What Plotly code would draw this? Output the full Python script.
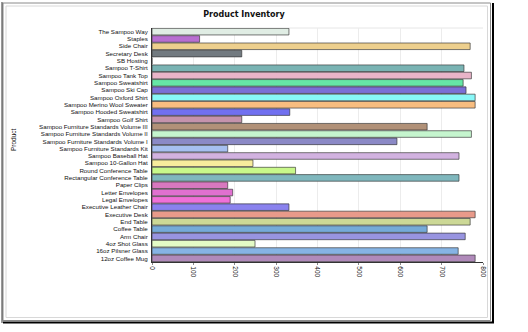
import plotly.graph_objects as go

products = [
    "The Sampoo Way", "Staples", "Side Chair", "Secretary Desk", "SB Hosting",
    "Sampoo T-Shirt", "Sampoo Tank Top", "Sampoo Sweatshirt", "Sampoo Ski Cap",
    "Sampoo Oxford Shirt", "Sampoo Merino Wool Sweater", "Sampoo Hooded Sweatshirt",
    "Sampoo Golf Shirt", "Sampoo Furniture Standards Volume III",
    "Sampoo Furniture Standards Volume II", "Sampoo Furniture Standards Volume I",
    "Sampoo Furniture Standards Kit", "Sampoo Baseball Hat", "Sampoo 10-Gallon Hat",
    "Round Conference Table", "Rectangular Conference Table", "Paper Clips",
    "Letter Envelopes", "Legal Envelopes", "Executive Leather Chair", "Executive Desk",
    "End Table", "Coffee Table", "Arm Chair", "4oz Shot Glass", "16oz Pilsner Glass",
    "12oz Coffee Mug",
]
inventory = [
    331, 115, 769, 217, 0,
    754, 772, 752, 759,
    781, 781, 333,
    217, 665,
    772, 592,
    183, 742, 244,
    347, 742, 183,
    195, 189, 331, 781,
    769, 665, 757, 249, 740,
    781,
]
bar_colors = [
    "#e0ede4", "#b86fd1", "#edcf8d", "#727a80", "#ffffff",
    "#79b3b3", "#e9b4c8", "#66e6a6", "#7b6fd6",
    "#88f8f8", "#f7bd80", "#7170f0",
    "#c593ac", "#b19178",
    "#c5f5ce", "#8b89c6",
    "#a6bff0", "#d2b2e0", "#f7ec9c",
    "#c8f88a", "#7fb7bd", "#d878bf",
    "#e070d0", "#f070d8", "#8a82ee", "#e89a8a",
    "#ccd896", "#75aad8", "#9894e0", "#e4fbc6", "#86b4e4",
    "#b08aba",
]
x_ticks = [0, 100, 200, 300, 400, 500, 600, 700, 800]

W, H = 528, 332
L, R, T, B = 152, 483, 28, 262

fig = go.Figure(go.Bar(
    x=inventory, y=products, orientation="h",
    marker=dict(color=bar_colors, line=dict(color="rgba(50,50,50,0.65)", width=1)),
))

def px(x):
    return (x - L) / (R - L)

def py(y):
    return (B - y) / (B - T)

shapes = [
    dict(type="rect", xref="paper", yref="paper", x0=px(3), x1=px(490.5), y0=py(320.5), y1=py(3),
         line=dict(color="#8a8a8a", width=1), layer="below"),
    dict(type="rect", xref="paper", yref="paper", x0=px(6), x1=px(487.5), y0=py(317.5), y1=py(6),
         line=dict(color="#d8d8d8", width=1), layer="below"),
    dict(type="line", xref="paper", yref="paper", x0=px(493), x1=px(493), y0=py(323), y1=py(3),
         line=dict(color="#000000", width=2)),
    dict(type="line", xref="paper", yref="paper", x0=px(3), x1=px(494), y0=py(322.5), y1=py(322.5),
         line=dict(color="#000000", width=2)),
    dict(type="line", xref="paper", yref="paper", x0=px(2), x1=px(2), y0=py(323), y1=py(2),
         line=dict(color="#333333", width=1)),
    dict(type="line", xref="paper", yref="paper", x0=0, x1=1, y0=1, y1=1,
         line=dict(color="#e6e6e6", width=1), layer="below"),
]

txt = "#111111"
fig.update_layout(
    template="none",
    width=W, height=H,
    margin=dict(l=L, r=W - R, t=T, b=H - B),
    paper_bgcolor="white", plot_bgcolor="white",
    showlegend=False,
    bargap=0.1,
    font=dict(family="Liberation Sans, Arial", size=6, color=txt),
    title=dict(text="<b>Product Inventory</b>", x=244 / W, xanchor="center",
               y=1 - 14 / H, yanchor="middle",
               font=dict(family="DejaVu Sans", size=8, color=txt)),
    xaxis=dict(range=[0, 800], tickmode="array", tickvals=x_ticks,
               ticktext=[str(v) for v in x_ticks],
               tickangle=90, showgrid=True, gridcolor="#ececec", gridwidth=1,
               zeroline=False, showline=True, linecolor="#333333", linewidth=1,
               ticks="outside", ticklen=2, tickcolor="#888888",
               tickfont=dict(size=6.5, color=txt), fixedrange=True),
    yaxis=dict(autorange="reversed", type="category", tickmode="array",
               tickvals=products, ticktext=products,
               showline=True, linecolor="#333333",
               linewidth=1, showgrid=False, zeroline=False, ticks="", ticklabelstandoff=2,
               tickfont=dict(size=6.2, color=txt)),
    annotations=[dict(text="Product", xref="paper", yref="paper", x=px(13), y=py(140),
                      xanchor="center", yanchor="middle", textangle=-90, showarrow=False,
                      font=dict(size=6.5, color=txt))],
    shapes=shapes,
)

fig.write_html("out.html")
